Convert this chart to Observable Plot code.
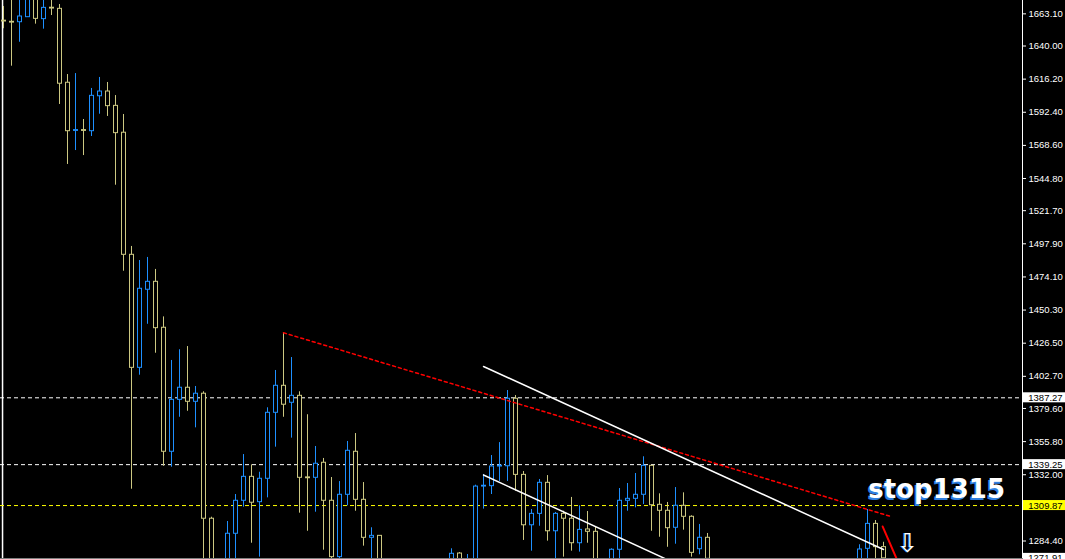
<!DOCTYPE html>
<html>
<head>
<meta charset="utf-8">
<script src="https://cdn.jsdelivr.net/npm/d3@7"></script>
<script src="https://cdn.jsdelivr.net/npm/@observablehq/plot@0.6"></script>
<style>
html, body { margin: 0; padding: 0; background: #000; overflow: hidden; }
#chart svg { display: block; }
</style>
</head>
<body>
<div id="chart"></div>
<script>
// ---- candle data (bar index, OHLC) ----
const bars = [0,1,2,3,4,5,6,7,8,9,10,11,12,13,14,15,16,17,18,19,20,21,22,23,24,25,26,
  28,29,30,31,32,33,34,35,36,37,38,39,40,41,42,43,44,45,46,47,
  56,57,58,59,60,61,62,63,64,65,66,67,68,69,70,71,72,73,74,
  76,77,78,79,80,81,82,83,84,85,86,87,88,
  107,108,109,110];
const opens = [1658.2,1657.4,1657.1,1660.7,1675.0,1659.3,1667.5,1666.7,1613.6,1579.0,1579.6,1578.8,1603.9,1607.3,1597.0,1577.7,1490.0,1408.8,1464.9,1470.6,1437.6,1348.5,1385.8,1394.5,1384.4,1390.2,1300.4,
  1264.0,1289.6,1313.3,1330.5,1312.3,1329.1,1376.5,1395.9,1383.7,1388.7,1330.1,1329.8,1340.6,1313.3,1272.8,1317.6,1348.5,1314.0,1286.7,1288.1,
  1264.0,1275.4,1262.0,1264.0,1323.5,1323.8,1337.9,1338.1,1386.6,1331.9,1295.7,1303.9,1326.2,1291.4,1303.9,1300.4,1282.8,1292.7,1291.0,
  1267.0,1278.1,1313.3,1314.7,1317.6,1338.4,1310.4,1306.1,1293.9,1309.7,1301.8,1278.5,1286.7,
  1266.0,1278.8,1296.7,1280.0];
const highs = [1668.4,1680.0,1678.0,1679.0,1677.0,1673.5,1672.7,1669.8,1619.5,1620.2,1587.2,1609.5,1617.4,1613.8,1604.4,1590.8,1496.0,1485.9,1488.1,1479.5,1445.4,1414.1,1421.8,1424.1,1395.4,1391.6,1301.5,
  1298.4,1317.8,1346.5,1339.1,1333.8,1380.1,1406.9,1434.0,1416.2,1391.6,1375.1,1352.3,1343.7,1330.0,1327.1,1355.9,1361.6,1326.4,1293.9,1288.3,
  1278.8,1276.1,1274.7,1324.5,1332.2,1345.8,1355.1,1392.5,1388.9,1334.3,1307.0,1328.6,1331.4,1304.9,1305.8,1315.7,1309.7,1305.6,1294.3,
  1278.8,1322.1,1325.7,1332.9,1344.9,1338.6,1318.3,1312.1,1322.8,1319.0,1302.5,1296.3,1289.8,
  1281.7,1307.0,1299.1,1283.5];
const lows = [1652.4,1625.5,1642.7,1660.5,1655.7,1652.1,1661.9,1598.0,1554.9,1564.9,1561.3,1575.0,1591.0,1589.4,1540.0,1478.2,1321.6,1403.5,1440.1,1419.3,1338.1,1337.4,1373.3,1377.6,1365.7,1262.0,1258.0,
  1256.0,1266.0,1308.7,1282.8,1272.8,1315.4,1351.8,1373.3,1358.3,1304.4,1291.4,1305.1,1277.8,1268.0,1268.0,1309.7,1305.8,1280.7,1266.0,1260.0,
  1260.0,1262.0,1258.0,1260.0,1307.3,1317.8,1327.2,1327.2,1320.2,1284.8,1277.1,1295.0,1284.3,1270.0,1272.8,1277.1,1276.4,1282.8,1260.0,
  1262.0,1269.0,1305.8,1308.2,1310.6,1291.4,1287.1,1279.9,1282.1,1292.2,1272.8,1274.5,1268.0,
  1262.0,1268.0,1270.0,1270.0];
const closes = [1657.6,1656.8,1661.2,1676.0,1659.5,1667.4,1666.9,1612.9,1578.8,1579.6,1579.0,1604.2,1607.3,1596.8,1577.4,1490.0,1408.8,1465.6,1470.6,1437.3,1348.5,1385.8,1394.5,1384.4,1390.2,1300.4,1266.0,
  1289.6,1313.3,1330.5,1311.9,1329.1,1376.5,1395.9,1382.3,1388.7,1329.8,1329.5,1339.9,1313.3,1272.8,1317.6,1349.2,1314.0,1286.7,1288.1,1266.0,
  1275.2,1266.0,1269.0,1323.5,1324.1,1337.9,1338.5,1386.6,1331.9,1295.7,1303.9,1326.2,1291.4,1303.9,1300.4,1282.8,1292.4,1291.0,1266.0,
  1278.1,1313.3,1314.7,1317.6,1338.4,1310.1,1306.1,1293.6,1309.7,1301.8,1275.9,1286.7,1271.6,
  1278.3,1296.7,1280.0,1271.91];

// ---- horizontal levels ----
const levelPrices = [1387.27, 1339.25, 1309.87];
const levelColors = ["#ffffff", "#ffffff", "#ffff00"];
const currentPrice = 1271.91;

// ---- price axis tick labels ----
const tickValues = [1663.10,1640.00,1616.20,1592.40,1568.60,1544.80,1521.70,1497.90,1474.10,1450.30,1426.50,1402.70,1379.60,1355.80,1332.00,1284.40];

// ---- drawn objects (bar index, price) ----
const redTrendBars = [35, 110.8];
const redTrendPrices = [1434.0, 1302.2];
const upperTrendBars = [60, 110];
const upperTrendPrices = [1409.8, 1278.3];
const lowerTrendBars = [60, 90];
const lowerTrendPrices = [1331.8, 1252.4];
const forecastBars = [109.9, 112];
const forecastPrices = [1294.8, 1266.8];
const verticalLineBar = -0.12;
const annotationText = "stop1315";
const annotationBar = 108.1;
const annotationPrice = 1321.2;
const arrowBar = 113;
const arrowPrice = 1276.5;

const BLUE = "#1e90ff";
const KHAKI = "#ccc882";

const candles = bars.map((b, i) => ({bar: b, open: opens[i], high: highs[i], low: lows[i], close: closes[i]}));
const up = candles.filter(d => d.close >= d.open);
const down = candles.filter(d => d.close < d.open);
const levels = levelPrices.map((p, i) => ({price: p, color: levelColors[i]}));
const labelBoxes = levels.map(d => ({price: d.price, bg: d.color})).concat([{price: currentPrice, bg: "#ffffff"}]);
const mkLine = (bs, ps) => bs.map((b, i) => ({bar: b, price: ps[i]}));

const chart = Plot.plot({
  width: 1065,
  height: 559,
  marginLeft: 0,
  marginRight: 43,
  marginTop: 0,
  marginBottom: 1,
  style: {background: "#000", overflow: "hidden"},
  x: {domain: [-0.375, 127.375], axis: null},
  y: {domain: [1271.83, 1672.69], axis: null},
  marks: [
    Plot.frame({anchor: "bottom", stroke: "#808080"}),
    Plot.ruleX([verticalLineBar], {x: d => d, stroke: "#ffffff", strokeWidth: 1.5}),
    Plot.ruleY(levels, {y: "price", stroke: "color", strokeDasharray: "4,3", clip: true}),
    // wicks
    Plot.ruleX(up, {x: "bar", y1: "low", y2: "high", stroke: BLUE, clip: true}),
    Plot.ruleX(down, {x: "bar", y1: "low", y2: "high", stroke: KHAKI, clip: true}),
    // bodies
    Plot.rect(up, {x1: d => d.bar - 0.25, x2: d => d.bar + 0.25, y1: "open", y2: "close", dx: 0.5, fill: "#000", stroke: BLUE, clip: true}),
    Plot.rect(down, {x1: d => d.bar - 0.25, x2: d => d.bar + 0.25, y1: "open", y2: "close", dx: 0.5, fill: "#000", stroke: KHAKI, clip: true}),
    // trend lines
    Plot.line(mkLine(redTrendBars, redTrendPrices), {x: "bar", y: "price", stroke: "#ff0000", strokeDasharray: "3,3", clip: true}),
    Plot.line(mkLine(upperTrendBars, upperTrendPrices), {x: "bar", y: "price", stroke: "#ffffff", clip: true}),
    Plot.line(mkLine(lowerTrendBars, lowerTrendPrices), {x: "bar", y: "price", stroke: "#ffffff", clip: true}),
    Plot.line(mkLine(forecastBars, forecastPrices), {x: "bar", y: "price", stroke: "#ff0000", strokeWidth: 2, clip: true}),
    // arrow
    Plot.text([arrowPrice], {x: arrowBar, y: d => d, text: () => "⇩", dx: -1, lineAnchor: "bottom", fill: "#2f7fe0", fontSize: 26, fontFamily: "DejaVu Sans"}),
    Plot.text([arrowPrice], {x: arrowBar, y: d => d, text: () => "⇩", lineAnchor: "bottom", fill: "#ffffff", fontSize: 26, fontFamily: "DejaVu Sans"}),
    // annotation
    Plot.text([annotationText], {x: annotationBar, y: annotationPrice, text: d => d, textAnchor: "start", dx: -1.5, dy: 1.5, fill: "#2f7fe0", fontSize: 26, fontWeight: "bold", fontFamily: "DejaVu Sans"}),
    Plot.text([annotationText], {x: annotationBar, y: annotationPrice, text: d => d, textAnchor: "start", fill: "#ffffff", fontSize: 26, fontWeight: "bold", fontFamily: "DejaVu Sans"}),
    // price axis
    Plot.ruleX([127.375], {x: d => d, stroke: "#ffffff"}),
    Plot.axisY(tickValues, {anchor: "right", tickSize: 3, tickPadding: 3, tickFormat: d => d.toFixed(2), stroke: "#ffffff", fill: "#ffffff", fontSize: 9.5, fontFamily: "Liberation Sans"}),
    // level labels
    Plot.rect(labelBoxes, {x1: 127.5, x2: 134, y1: d => d.price - 3.6, y2: d => d.price + 3.6, fill: "bg"}),
    Plot.text(labelBoxes, {x: 128.1, y: "price", text: d => d.price.toFixed(2), textAnchor: "start", fill: "#000000", fontSize: 9.5, fontFamily: "Liberation Sans"})
  ]
});
document.getElementById("chart").appendChild(chart);
</script>
</body>
</html>
